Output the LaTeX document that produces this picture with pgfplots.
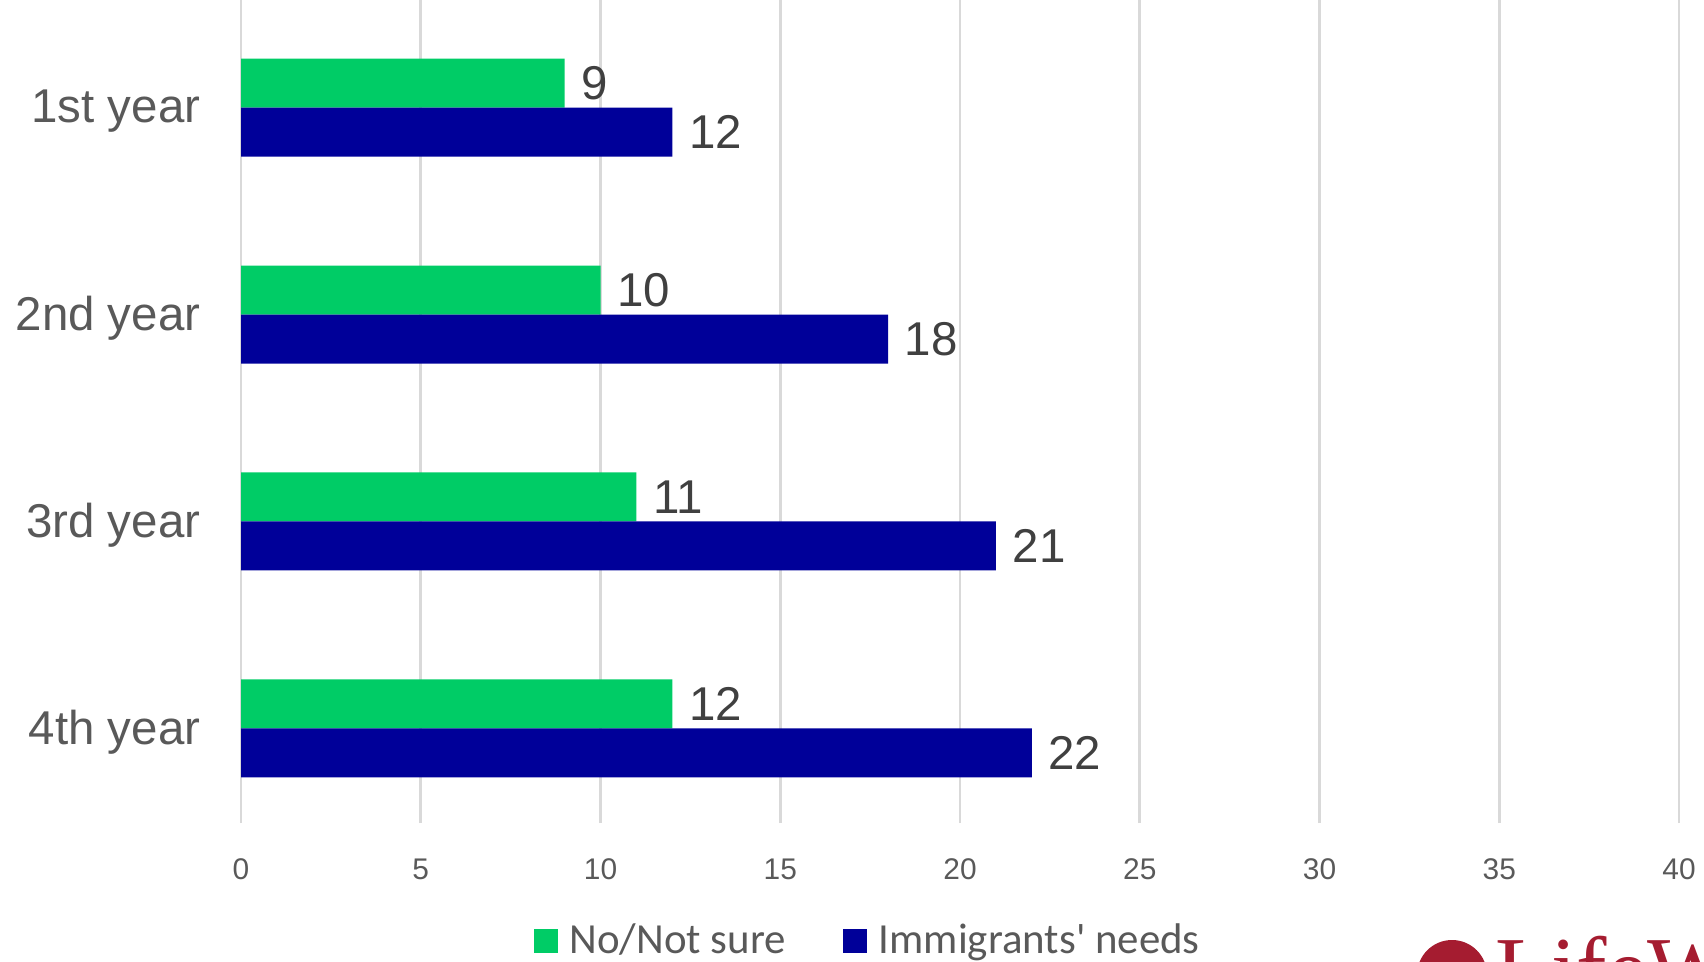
\documentclass[border=0pt]{standalone}
\usepackage{pgfplots}
\pgfplotsset{compat=1.18}
\usepackage{fontspec}
\setmainfont{Liberation Sans}
\newfontfamily\carlito{Carlito}
\newfontfamily\serifl{Liberation Serif}
\definecolor{ngreen}{RGB}{0,204,102}
\definecolor{nblue}{RGB}{0,0,153}
\definecolor{lab}{RGB}{89,89,89}
\definecolor{val}{RGB}{64,64,64}
\definecolor{logored}{RGB}{165,28,48}
\definecolor{gridc}{RGB}{217,217,217}
\begin{document}
\begin{tikzpicture}
\useasboundingbox (0,0) rectangle (17.04cm,9.61cm);
\clip (0,0) rectangle (17.04cm,9.61cm);
\begin{axis}[
  at={(2.41cm,1.38cm)}, anchor=south west,
  scale only axis, width=14.38cm, height=8.40cm,
  xmin=0, xmax=40, ymin=-0.46, ymax=3.6,
  xbar, bar width=0.49cm,
  /pgf/number format/assume math mode=true,
  axis line style={draw=none},
  xmajorgrids, grid style={gridc, line width=0.8pt},
  xtick={0,5,...,40}, ytick={0,1,2,3},
  yticklabels={4th year,3rd year,2nd year,1st year},
  major tick length=0pt, tick style={draw=none},
  xticklabel style={font=\fontsize{8.5}{10}\selectfont, text=lab, anchor=center, yshift=-0.46cm, inner sep=0pt},
  yticklabel style={font=\fontsize{13.5}{16}\selectfont, text=lab, anchor=east, xshift=-0.40cm, yshift=-0.04cm, inner sep=0pt},
  nodes near coords,
  nodes near coords style={font=\fontsize{13.5}{16}\selectfont, text=val, anchor=west, inner sep=0pt, xshift=0.16cm},
  legend style={at={(axis cs:17.5,-1.03)}, anchor=center, draw=none, fill=none,
    font=\carlito\fontsize{12.2}{14}\selectfont, text=lab, legend columns=2,
    /tikz/every even column/.append style={column sep=0.5cm}},
]
\addplot[draw=none, fill=ngreen, bar shift=0.24cm,
  legend image code/.code={\fill[ngreen] (0cm,-0.12cm) rectangle (0.24cm,0.12cm);}]
  coordinates {(9,3) (10,2) (11,1) (12,0)};
\addlegendentry{\hspace{0.05cm}No/Not sure}
\addplot[draw=none, fill=nblue, bar shift=-0.25cm,
  legend image code/.code={\fill[nblue] (0cm,-0.12cm) rectangle (0.24cm,0.12cm);}]
  coordinates {(12,3) (18,2) (21,1) (22,0)};
\addlegendentry{\hspace{0.05cm}Immigrants' needs}
\end{axis}
\fill[logored] (14.52cm,-0.14cm) circle (0.35cm);
\node[anchor=north west, inner sep=0pt, text=logored, font=\serifl\fontsize{26}{30}\selectfont] at (14.95cm,0.26cm) {LifeWay};
\end{tikzpicture}
\end{document}
